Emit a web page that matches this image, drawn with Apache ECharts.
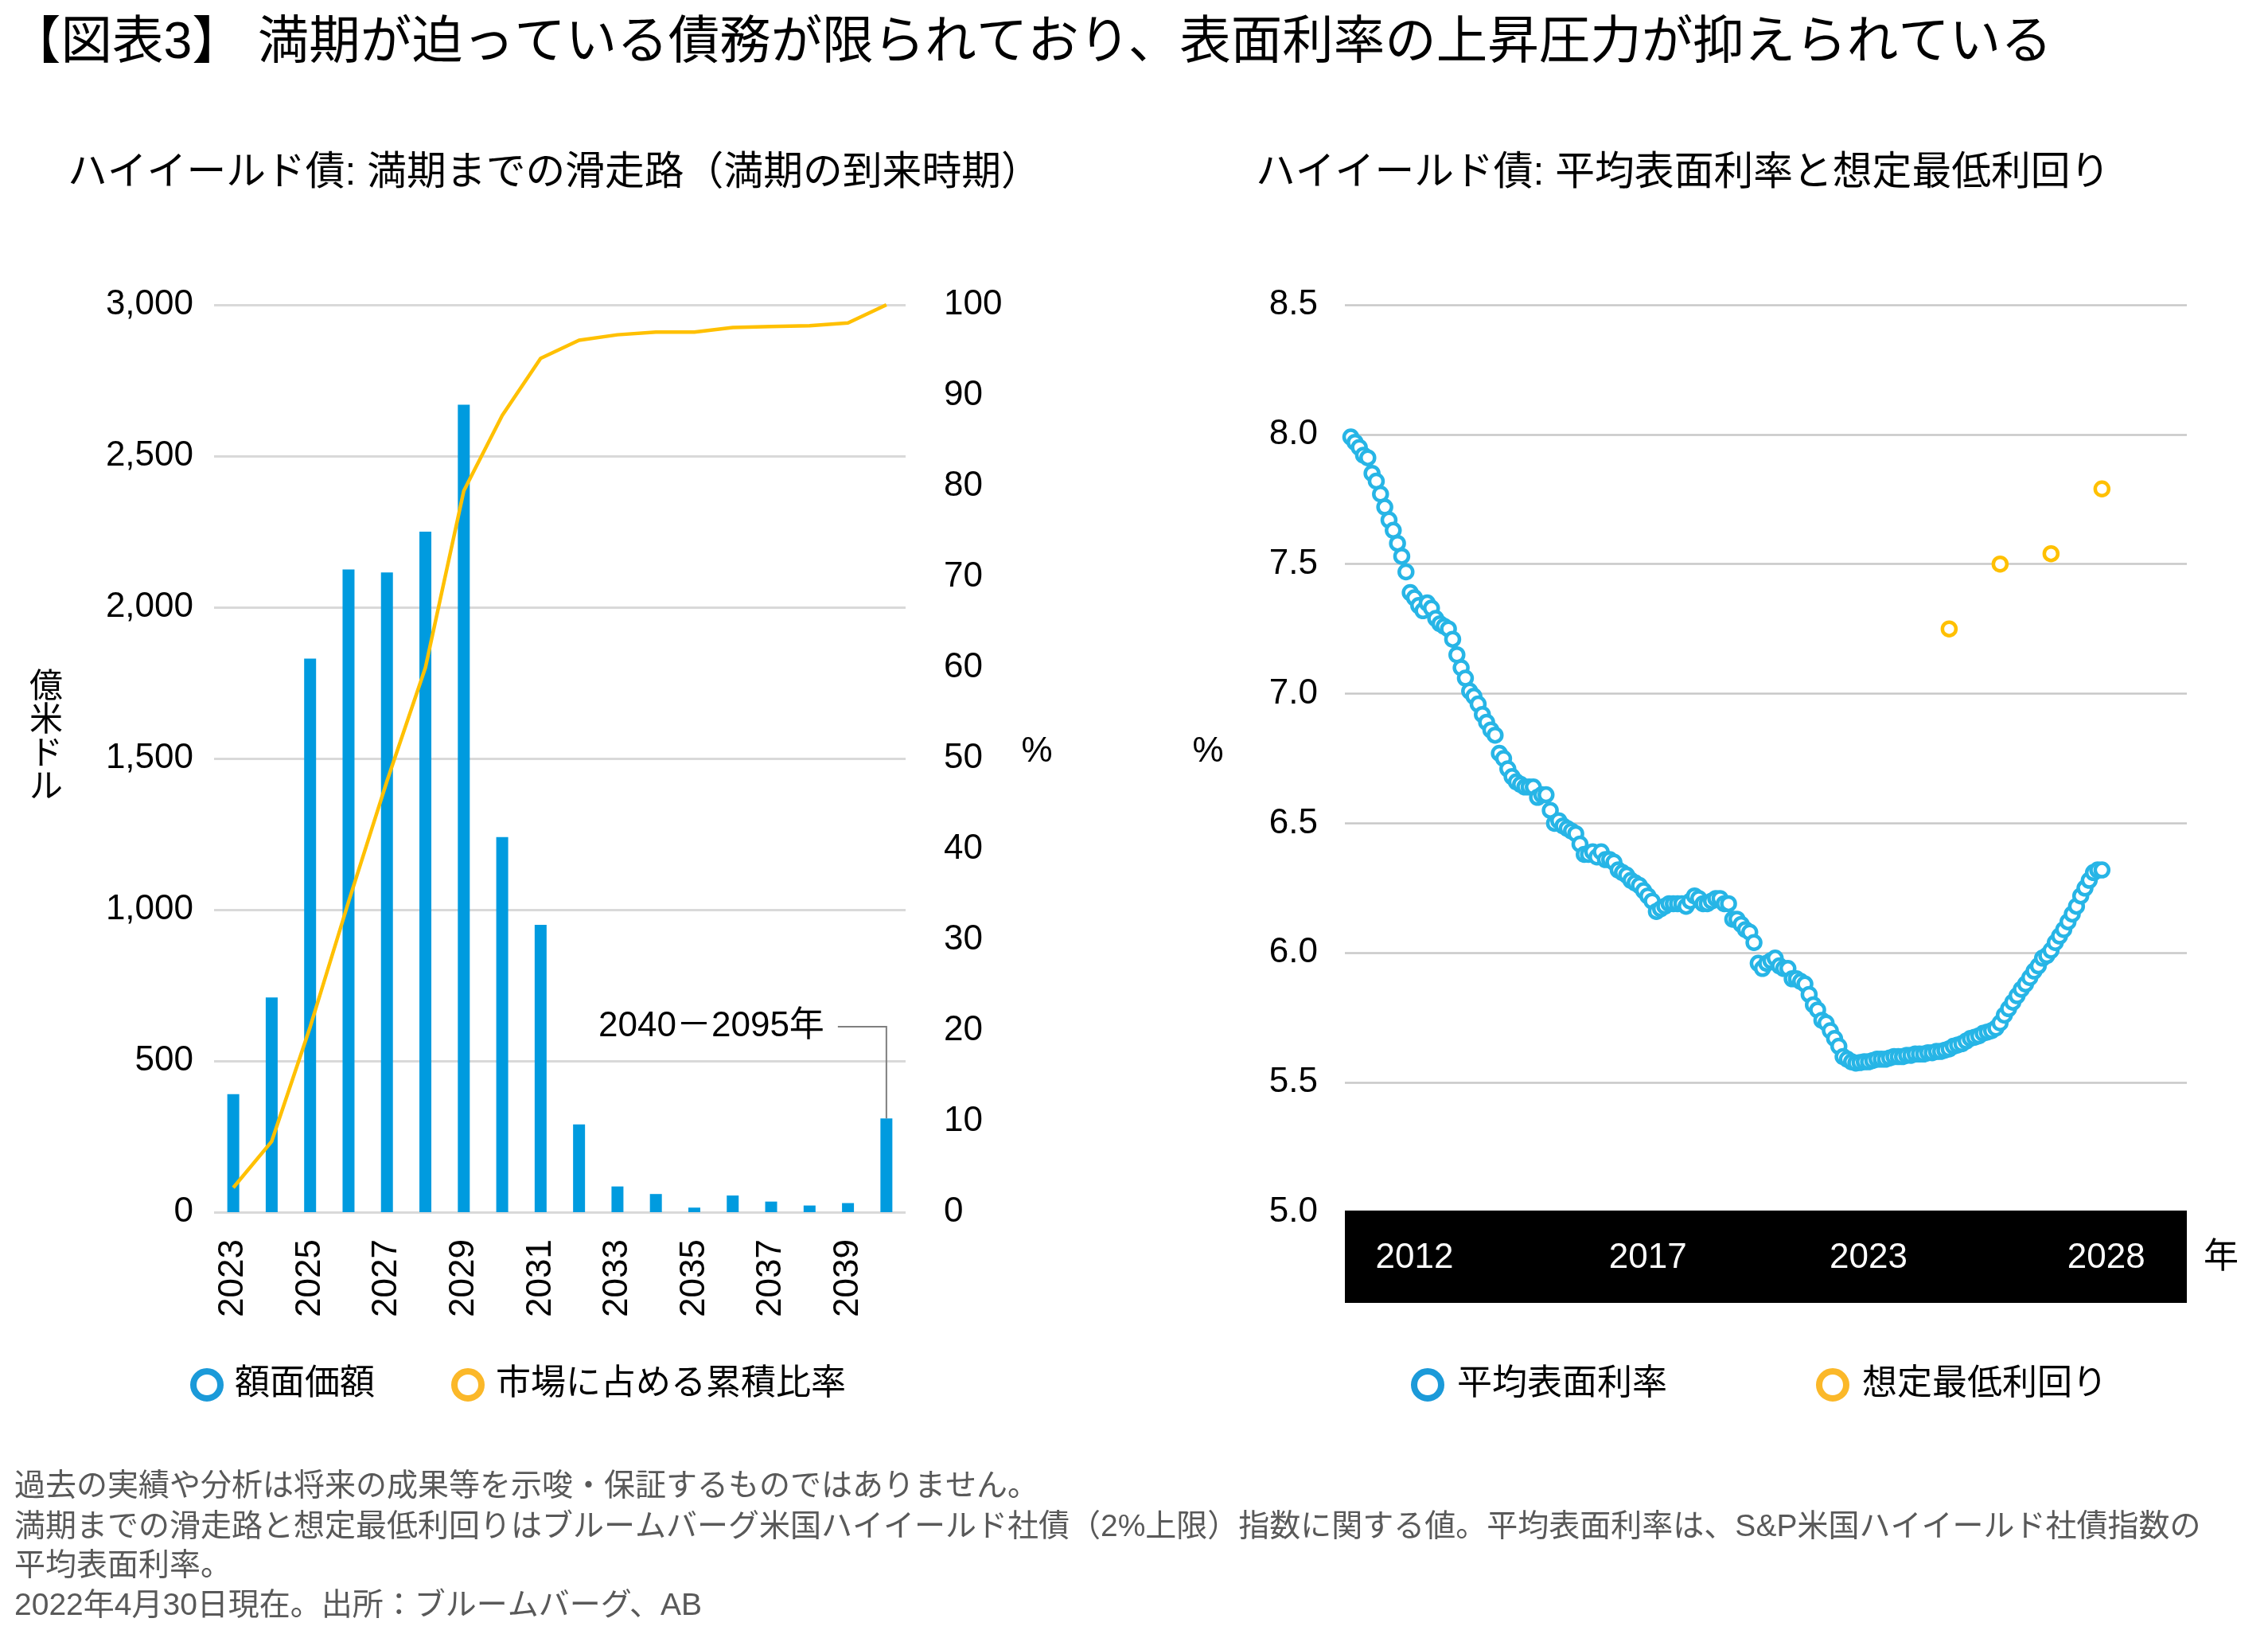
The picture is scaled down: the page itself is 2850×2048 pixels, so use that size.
<!DOCTYPE html>
<html>
<head>
<meta charset="utf-8">
<script src="https://cdn.jsdelivr.net/npm/echarts@6/dist/echarts.min.js"></script>
<style>html,body{margin:0;padding:0;background:#fff}#c{width:2850px;height:2048px}</style>
</head>
<body>
<div id="c"></div>
<script>
// ---------- data ----------
const maturityYears = ['2023','2024','2025','2026','2027','2028','2029','2030','2031','2032','2033','2034','2035','2036','2037','2038','2039','2040-2095'];
const faceValue = [390, 710, 1830, 2125, 2115, 2250, 2670, 1240, 950, 290, 85, 60, 15, 55, 35, 22, 30, 310];
const cumShare = [2.7, 7.8, 20.4, 34.2, 47.5, 60.0, 79.5, 87.8, 94.1, 96.1, 96.7, 97.0, 97.0, 97.5, 97.6, 97.7, 98.0, 100];

const couponRate = [
  7.99, 7.97, 7.95, 7.92, 7.91, 7.85, 7.82, 7.77, 7.72, 7.67,
  7.63, 7.58, 7.53, 7.47, 7.39, 7.37, 7.34, 7.32, 7.35, 7.33,
  7.29, 7.27, 7.26, 7.25, 7.21, 7.15, 7.10, 7.06, 7.01, 6.99,
  6.96, 6.92, 6.89, 6.86, 6.84, 6.77, 6.75, 6.71, 6.68, 6.66,
  6.65, 6.64, 6.64, 6.64, 6.60, 6.61, 6.61, 6.55, 6.50, 6.51,
  6.49, 6.48, 6.47, 6.46, 6.42, 6.38, 6.38, 6.39, 6.37, 6.39,
  6.36, 6.36, 6.35, 6.32, 6.31, 6.30, 6.28, 6.27, 6.26, 6.24,
  6.22, 6.20, 6.16, 6.17, 6.18, 6.19, 6.19, 6.19, 6.19, 6.18,
  6.20, 6.22, 6.21, 6.19, 6.19, 6.20, 6.21, 6.21, 6.19, 6.19,
  6.13, 6.13, 6.11, 6.09, 6.08, 6.04, 5.96, 5.94, 5.96, 5.97,
  5.98, 5.95, 5.94, 5.94, 5.90, 5.90, 5.89, 5.88, 5.84, 5.80,
  5.78, 5.74, 5.73, 5.70, 5.67, 5.64, 5.60, 5.59, 5.58, 5.575,
  5.577, 5.58, 5.58, 5.585, 5.59, 5.59, 5.59, 5.595, 5.60, 5.60,
  5.60, 5.605, 5.605, 5.61, 5.61, 5.61, 5.615, 5.615, 5.62, 5.62,
  5.625, 5.63, 5.64, 5.645, 5.65, 5.66, 5.67, 5.675, 5.68, 5.69,
  5.695, 5.70, 5.71, 5.73, 5.76, 5.785, 5.81, 5.835, 5.86, 5.88,
  5.905, 5.93, 5.95, 5.98, 5.99, 6.01, 6.04, 6.065, 6.09, 6.12,
  6.15, 6.18, 6.22, 6.25, 6.28, 6.31, 6.32, 6.32
];
const minYieldIdx = [141, 153, 165, 177];
const minYield = [7.25, 7.50, 7.54, 7.79];

const couponTickIdx = [15, 70, 122, 178];
const couponTickLabels = ['2012', '2017', '2023', '2028'];

// ---------- texts ----------
const mainTitle = '【図表3】 満期が迫っている債務が限られており、表面利率の上昇圧力が抑えられている';
const leftTitle = 'ハイイールド債: 満期までの滑走路（満期の到来時期）';
const rightTitle = 'ハイイールド債: 平均表面利率と想定最低利回り';
const leftAxisName = '億米ドル';
const annotText = '2040－2095年';
const footnotes = [
  '過去の実績や分析は将来の成果等を示唆・保証するものではありません。',
  '満期までの滑走路と想定最低利回りはブルームバーグ米国ハイイールド社債（2%上限）指数に関する値。平均表面利率は、S&P米国ハイイールド社債指数の',
  '平均表面利率。',
  '2022年4月30日現在。出所：ブルームバーグ、AB'
];

// ---------- chart ----------
const FONT = "'Liberation Sans', Arial, 'Noto Sans CJK JP', sans-serif";
const chart = echarts.init(document.getElementById('c'), null, {renderer: 'canvas', width: 2850, height: 2048});

const G0 = {left: 269, top: 383, width: 869, height: 1140};
const G1 = {left: 1690, top: 383, width: 1058, height: 1140};

const noLine = {show: false};
const legendText = (pad) => ({fontSize: 44, color: '#000', fontFamily: FONT, padding: [0, 0, 0, pad]});
const option = {
  animation: false,
  backgroundColor: '#ffffff',
  textStyle: {fontFamily: FONT},
  grid: [G0, G1],
  xAxis: [
    {type: 'category', gridIndex: 0, data: maturityYears, axisLine: noLine, axisTick: noLine,
     axisLabel: {interval: 1, rotate: 90, margin: 34, fontSize: 44, color: '#000', fontFamily: FONT}},
    {type: 'value', gridIndex: 1, min: -1.4, max: 197, z: 10,
     splitLine: noLine, axisLine: noLine, axisTick: noLine,
     axisLabel: {customValues: couponTickIdx,
                 formatter: (v) => { const k = couponTickIdx.indexOf(Math.round(v)); return k >= 0 ? couponTickLabels[k] : ''; },
                 color: '#fff', fontSize: 44, margin: 36, fontFamily: FONT}}
  ],
  yAxis: [
    {type: 'value', gridIndex: 0, min: 0, max: 3000, interval: 500,
     axisLabel: {formatter: v => v.toLocaleString('en-US'), fontSize: 44, color: '#000', margin: 26, fontFamily: FONT},
     splitLine: {lineStyle: {color: '#D9D9D9', width: 3}}, axisLine: noLine, axisTick: noLine},
    {type: 'value', gridIndex: 0, position: 'right', min: 0, max: 100, interval: 10,
     axisLabel: {fontSize: 44, color: '#000', margin: 48, fontFamily: FONT},
     splitLine: noLine, axisLine: noLine, axisTick: noLine},
    {type: 'value', gridIndex: 1, min: 5, max: 8.5, interval: 0.5,
     axisLabel: {formatter: v => v.toFixed(1), fontSize: 44, color: '#000', margin: 34, fontFamily: FONT},
     splitLine: {lineStyle: {color: '#C8C8C8', width: 2.5}}, axisLine: noLine, axisTick: noLine}
  ],
  legend: [
    {left: 239, top: 1718, padding: 0, itemWidth: 34, itemHeight: 34, itemGap: 96, selectedMode: false,
     textStyle: legendText(13),
     data: [
       {name: '額面価額', icon: 'circle', itemStyle: {color: '#fff', borderColor: '#1B9AD9', borderWidth: 8}},
       {name: '市場に占める累積比率', icon: 'circle', itemStyle: {color: '#fff', borderColor: '#FBB829', borderWidth: 8}}
     ]},
    {left: 1773, top: 1718, padding: 0, itemWidth: 34, itemHeight: 34, itemGap: 187, selectedMode: false,
     textStyle: legendText(15),
     data: [
       {name: '平均表面利率', icon: 'circle', itemStyle: {color: '#fff', borderColor: '#1B9AD9', borderWidth: 8}},
       {name: '想定最低利回り', icon: 'circle', itemStyle: {color: '#fff', borderColor: '#FBB829', borderWidth: 8}}
     ]}
  ],
  series: [
    {name: '額面価額', type: 'bar', xAxisIndex: 0, yAxisIndex: 0, data: faceValue, barWidth: 15,
     itemStyle: {color: '#009BDF'}},
    {name: '市場に占める累積比率', type: 'line', xAxisIndex: 0, yAxisIndex: 1, data: cumShare,
     symbol: 'none', z: 5, lineStyle: {color: '#FFC000', width: 4.5}, itemStyle: {color: '#FFC000'}},
    {name: '平均表面利率', type: 'scatter', xAxisIndex: 1, yAxisIndex: 2,
     data: couponRate.map((v, i) => [i, v]), symbol: 'circle', symbolSize: 17,
     itemStyle: {color: '#fff', borderColor: '#27B5E6', borderWidth: 4.5, opacity: 1}},
    {name: '想定最低利回り', type: 'scatter', xAxisIndex: 1, yAxisIndex: 2,
     data: minYield.map((v, k) => [minYieldIdx[k], v]), symbol: 'circle', symbolSize: 17,
     itemStyle: {color: '#fff', borderColor: '#FFC000', borderWidth: 4.5, opacity: 1}}
  ]
};
chart.setOption(option);

// ---------- annotations & texts ----------
const lastIdx = maturityYears.length - 1;
const pTop = chart.convertToPixel({xAxisIndex: 0, yAxisIndex: 0}, [lastIdx, faceValue[lastIdx]]);
const annotY = 1290;
const txt = (text, x, y, size, opts = {}) => ({
  type: 'text', x, y, z: 20,
  style: Object.assign({text, fontSize: size, fontFamily: FONT, fill: '#000', align: 'left', verticalAlign: 'middle'}, opts)
});
const elements = [
  txt(mainTitle, 12, 55, 64.5),
  txt(leftTitle, 85, 218, 49.8),
  txt(rightTitle, 1578, 218, 49.8),
  txt(leftAxisName.split('').join('\n'), 58, 927, 42, {align: 'center', lineHeight: 42}),
  txt('%', 1303, 945, 44, {align: 'center'}),
  txt('%', 1518, 945, 44, {align: 'center'}),
  txt('年', 2791, 1581, 44, {align: 'center'}),
  {type: 'rect', z: 1, shape: {x: G1.left, y: 1521, width: G1.width, height: 116}, style: {fill: '#000'}},
  txt(annotText, pTop[0] - 78, annotY, 44, {align: 'right'}),
  {type: 'polyline', z: 20, shape: {points: [[pTop[0] - 61, annotY], [pTop[0], annotY], [pTop[0], pTop[1]]]},
   style: {stroke: '#7F7F7F', lineWidth: 2, fill: null}}
];
const fnY = [1868, 1919, 1968, 2018];
footnotes.forEach((t, i) => elements.push(txt(t, 18, fnY[i], 39, {fill: '#595959'})));
chart.setOption({graphic: {elements}});
</script>
</body>
</html>
